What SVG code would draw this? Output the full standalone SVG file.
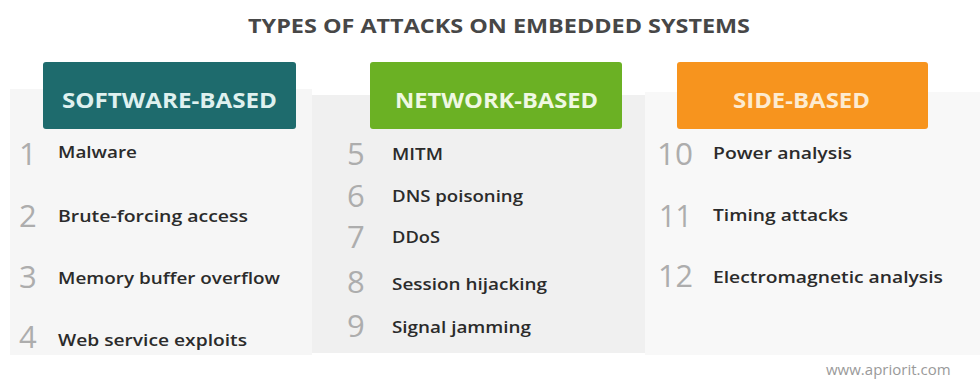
<svg xmlns="http://www.w3.org/2000/svg" width="980" height="381" viewBox="0 0 980 381">
<style>
.title{font-family:"Open Sans","Liberation Sans",sans-serif;font-weight:700;font-size:20px;fill:#474747}
.hdr{font-family:"Open Sans","Liberation Sans",sans-serif;font-weight:700;font-size:22px;text-anchor:middle}
.num{font-family:"Open Sans","Liberation Sans",sans-serif;font-weight:400;font-size:31px;fill:#adadad}
.item{font-family:"Open Sans","Liberation Sans",sans-serif;font-weight:600;font-size:17px;fill:#2b2b2b}
.url{font-family:"Open Sans","Liberation Sans",sans-serif;font-weight:400;font-size:15px;fill:#9a9a9a}
</style>
<rect width="980" height="381" fill="#ffffff"/>
<text class="title" x="248" y="33" textLength="502" lengthAdjust="spacingAndGlyphs">TYPES OF ATTACKS ON EMBEDDED SYSTEMS</text>

<g id="panels">
<rect x="10" y="89" width="302" height="266" fill="#f6f6f6"/>
<rect x="645" y="92" width="335" height="263" fill="#f8f8f8"/>
<rect x="312" y="95" width="333" height="258" fill="#f0f0f0"/>
</g>

<g id="software">
<rect x="43" y="62" width="253" height="67" rx="3" fill="#1e6b6d"/>
<text class="hdr" x="169.5" y="108" fill="#dff1ef" textLength="215" lengthAdjust="spacingAndGlyphs">SOFTWARE-BASED</text>
<text class="num" x="19" y="165">1</text>
<text class="item" x="58" y="158" textLength="79" lengthAdjust="spacingAndGlyphs">Malware</text>
<text class="num" x="19" y="227">2</text>
<text class="item" x="58" y="222" textLength="190" lengthAdjust="spacingAndGlyphs">Brute-forcing access</text>
<text class="num" x="19" y="288">3</text>
<text class="item" x="58" y="284" textLength="222" lengthAdjust="spacingAndGlyphs">Memory buffer overflow</text>
<text class="num" x="19" y="348">4</text>
<text class="item" x="58" y="346" textLength="189" lengthAdjust="spacingAndGlyphs">Web service exploits</text>
</g>

<g id="network">
<rect x="370" y="62" width="252" height="67" rx="3" fill="#6bb124"/>
<text class="hdr" x="496.5" y="108" fill="#eff8e2" textLength="203" lengthAdjust="spacingAndGlyphs">NETWORK-BASED</text>
<text class="num" x="347" y="165">5</text>
<text class="item" x="392" y="160" textLength="51" lengthAdjust="spacingAndGlyphs">MITM</text>
<text class="num" x="347" y="207">6</text>
<text class="item" x="392" y="202" textLength="131" lengthAdjust="spacingAndGlyphs">DNS poisoning</text>
<text class="num" x="347" y="248">7</text>
<text class="item" x="392" y="243" textLength="48" lengthAdjust="spacingAndGlyphs">DDoS</text>
<text class="num" x="347" y="293">8</text>
<text class="item" x="392" y="290" textLength="155" lengthAdjust="spacingAndGlyphs">Session hijacking</text>
<text class="num" x="347" y="337">9</text>
<text class="item" x="392" y="333" textLength="139" lengthAdjust="spacingAndGlyphs">Signal jamming</text>
</g>

<g id="side">
<rect x="677" y="62" width="251" height="67" rx="3" fill="#f7941e"/>
<text class="hdr" x="801.5" y="108" fill="#fdebd0" textLength="137" lengthAdjust="spacingAndGlyphs">SIDE-BASED</text>
<text class="num" x="657" y="165" textLength="36" lengthAdjust="spacingAndGlyphs">10</text>
<text class="item" x="713" y="159" textLength="139" lengthAdjust="spacingAndGlyphs">Power analysis</text>
<text class="num" x="659" y="227" textLength="33" lengthAdjust="spacingAndGlyphs">11</text>
<text class="item" x="713" y="221" textLength="135" lengthAdjust="spacingAndGlyphs">Timing attacks</text>
<text class="num" x="658" y="287" textLength="35" lengthAdjust="spacingAndGlyphs">12</text>
<text class="item" x="713" y="283" textLength="230" lengthAdjust="spacingAndGlyphs">Electromagnetic analysis</text>
</g>

<text class="url" x="826" y="375">www.apriorit.com</text>
</svg>
